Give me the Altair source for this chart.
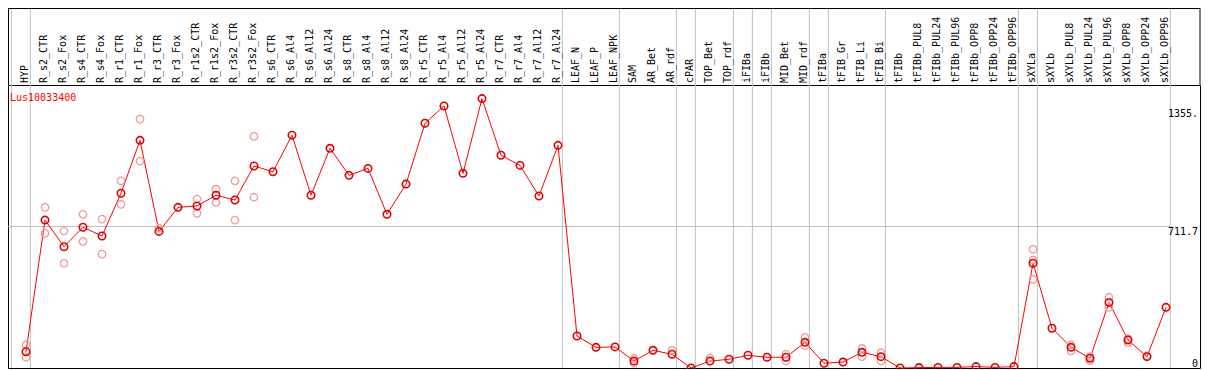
import altair as alt
import pandas as pd

categories = [
    "HYP", "R_s2_CTR", "R_s2_Fox", "R_s4_CTR", "R_s4_Fox", "R_r1_CTR", "R_r1_Fox",
    "R_r3_CTR", "R_r3_Fox", "R_r1s2_CTR", "R_r1s2_Fox", "R_r3s2_CTR", "R_r3s2_Fox",
    "R_s6_CTR", "R_s6_Al4", "R_s6_Al12", "R_s6_Al24", "R_s8_CTR", "R_s8_Al4",
    "R_s8_Al12", "R_s8_Al24", "R_r5_CTR", "R_r5_Al4", "R_r5_Al12", "R_r5_Al24",
    "R_r7_CTR", "R_r7_Al4", "R_r7_Al12", "R_r7_Al24", "LEAF_N", "LEAF_P", "LEAF_NPK",
    "SAM", "AR_Bet", "AR_rdf", "cPAR", "TOP_Bet", "TOP_rdf", "iFIBa", "iFIBb",
    "MID_Bet", "MID_rdf", "tFIBa", "tFIB_Gr", "tFIB_Li", "tFIB_Bi", "tFIBb",
    "tFIBb_PUL8", "tFIBb_PUL24", "tFIBb_PUL96", "tFIBb_OPP8", "tFIBb_OPP24",
    "tFIBb_OPP96", "sXYLa", "sXYLb", "sXYLb_PUL8", "sXYLb_PUL24", "sXYLb_PUL96",
    "sXYLb_OPP8", "sXYLb_OPP24", "sXYLb_OPP96",
]

means = [
    82, 744, 610, 708, 664, 879, 1145, 687, 808, 815, 869, 845, 1016,
    987, 1171, 869, 1105, 969, 1004, 773, 925, 1231, 1318, 979, 1355,
    1070, 1019, 865, 1120, 161, 104, 106, 35, 89, 69, 0, 35, 44, 64, 54,
    54, 129, 24, 30, 79, 57, 0, 2, 3, 3, 7, 3, 7, 527, 200, 104, 49, 330,
    141, 57, 305,
]

rep_cats = [
    "HYP", "HYP", "R_s2_CTR", "R_s2_CTR", "R_s2_Fox", "R_s2_Fox", "R_s4_CTR", "R_s4_CTR",
    "R_s4_Fox", "R_s4_Fox", "R_r1_CTR", "R_r1_CTR", "R_r1_Fox", "R_r1_Fox",
    "R_r3_CTR", "R_r1s2_CTR", "R_r1s2_CTR", "R_r1s2_Fox", "R_r1s2_Fox",
    "R_r3s2_CTR", "R_r3s2_CTR", "R_r3s2_Fox", "R_r3s2_Fox",
    "SAM", "SAM", "AR_rdf", "TOP_Bet", "MID_Bet", "MID_Bet", "MID_rdf", "MID_rdf",
    "tFIB_Li", "tFIB_Li", "tFIB_Bi", "tFIB_Bi",
    "sXYLa", "sXYLa", "sXYLa", "sXYLb_PUL8", "sXYLb_PUL8", "sXYLb_PUL24", "sXYLb_PUL24",
    "sXYLb_PUL96", "sXYLb_PUL96", "sXYLb_OPP8", "sXYLb_OPP8", "sXYLb_OPP24",
]
rep_vals = [
    116, 54, 808, 677, 689, 526, 773, 637,
    749, 573, 941, 823, 1252, 1041,
    703, 850, 778, 900, 833,
    941, 744, 1165, 859,
    24, 48, 90, 50, 69, 35, 154, 112,
    99, 57, 77, 35,
    597, 446, 543, 116, 86, 57, 37,
    356, 305, 147, 127, 62,
]

group_starts = ["HYP", "R_s2_CTR", "LEAF_N", "SAM", "cPAR", "TOP_Bet", "iFIBa", "iFIBb",
                "MID_Bet", "tFIBa", "tFIB_Gr", "tFIBb", "sXYLa", "sXYLb"]

tick_values = [1355, 711.7, 0]
tick_labels = ["1355.", "711.7", "0"]
tick_dy = [18, 8.5, -1]
title_text = "Lus10033400"
Y_MAX = 1423.4

FONT = "DejaVu Sans Mono"
W, H = 1192, 283
STEP = 19.0
X0 = 18.0  # pixel position of first category inside plot

idx = {c: i + 1 for i, c in enumerate(categories)}
df = pd.DataFrame({"cat": categories, "i": [idx[c] for c in categories], "v": means})
reps = pd.DataFrame({"i": [idx[c] for c in rep_cats], "v": rep_vals})
seps = pd.DataFrame({"x": [idx[c] - 0.77 for c in group_starts] + [len(categories) + 1 - 0.77]})

x_lo = 1 - X0 / STEP
xs = alt.Scale(domain=[x_lo, x_lo + W / STEP], nice=False, zero=False)
ys = alt.Scale(domain=[0, Y_MAX], nice=False, zero=False)


def X(f):
    return alt.X(f, type="quantitative", scale=xs, axis=None)


def Y(f):
    return alt.Y(f, type="quantitative", scale=ys, axis=None)


sep_layer = alt.Chart(seps).mark_rule(color="#c0c0c0", strokeWidth=1).encode(
    x=X("x"), y=alt.value(-77), y2=alt.value(H)
)

mid = pd.DataFrame({"v": [tick_values[1]]})
hline = alt.Chart(mid).mark_rule(color="#c0c0c0", strokeWidth=1).encode(
    y=Y("v"), x=alt.value(0), x2=alt.value(1164)
)

top_line = alt.Chart(mid).mark_rule(color="black", strokeWidth=1).encode(
    y=alt.value(-76.5), x=alt.value(0), x2=alt.value(W)
)
top_right = alt.Chart(mid).mark_rule(color="black", strokeWidth=1).encode(
    x=alt.value(W), y=alt.value(-77), y2=alt.value(0)
)
top_left = alt.Chart(mid).mark_rule(color="black", strokeWidth=1).encode(
    x=alt.value(0.5), y=alt.value(-77), y2=alt.value(0)
)

line = alt.Chart(df).mark_line(color="red", strokeWidth=1).encode(x=X("i"), y=Y("v"))

rep_pts = alt.Chart(reps).mark_point(
    shape="circle", filled=False, color="#f09a9a", size=55, strokeWidth=1.3, opacity=1
).encode(x=X("i"), y=Y("v"))

mean_pts = alt.Chart(df).mark_point(
    shape="circle", filled=False, color="#e00000", size=55, strokeWidth=1.6, opacity=1
).encode(x=X("i"), y=Y("v"))

xlabels = alt.Chart(df).mark_text(
    angle=270, align="left", baseline="middle", font=FONT, fontSize=10, color="black", dy=-1
).encode(x=X("i"), y=alt.value(-2), text="cat:N")

title = alt.Chart(mid).mark_text(
    align="left", baseline="alphabetic", font=FONT, fontSize=10, color="red"
).encode(x=alt.value(2), y=alt.value(16), text=alt.value(title_text))

tick_layers = []
for val, lab, d in zip(tick_values, tick_labels, tick_dy):
    tdf = pd.DataFrame({"v": [val], "t": [lab]})
    tick_layers.append(
        alt.Chart(tdf).mark_text(
            align="right", baseline="alphabetic", font=FONT, fontSize=10, color="black", dy=d
        ).encode(x=alt.value(W - 2), y=Y("v"), text="t:N")
    )

chart = alt.layer(
    sep_layer, hline, top_line, top_left, top_right, line, rep_pts, mean_pts, xlabels, title,
    *tick_layers
).properties(
    width=W, height=H,
    padding={"left": 0, "top": 77, "right": 1, "bottom": 1},
    autosize=alt.AutoSizeParams(type="none"),
).configure_view(stroke="black", strokeWidth=1)

chart.save("out.html", embed_options={"renderer": "svg", "actions": False})
